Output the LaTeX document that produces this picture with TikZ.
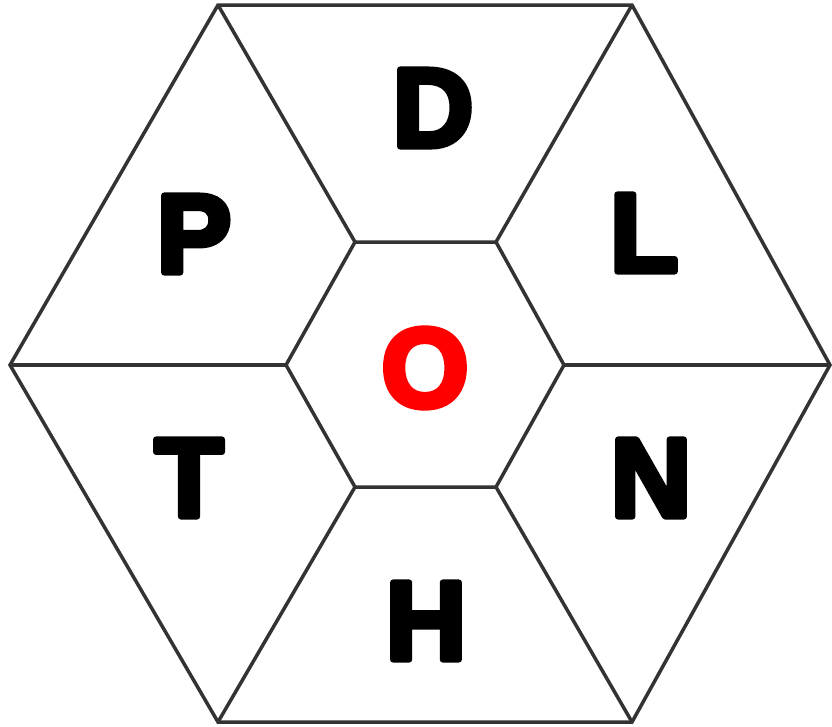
\documentclass[tikz,border=0pt]{standalone}
\usepackage{fontspec}
\setmainfont{Liberation Sans}
\newcommand\roundedtext[1]{%
  \special{pdf:literal direct 1 j 6 w 2 Tr}#1\special{pdf:literal direct 0 Tr 0 j}}
\begin{document}
\begin{tikzpicture}[x=1pt,y=-1pt,
  edge/.style={draw=black!80, line width=3.5pt, line join=miter},
  letter/.style={inner sep=0pt, font=\bfseries\fontsize{112}{112}\selectfont}]
\useasboundingbox (0,0) rectangle (832,726);
% outer vertices
\coordinate (o1) at (218,5);
\coordinate (o2) at (632,5);
\coordinate (o3) at (830,365);
\coordinate (o4) at (632,722);
\coordinate (o5) at (218,722);
\coordinate (o6) at (10,365);
% inner vertices
\coordinate (i1) at (355,242);
\coordinate (i2) at (496,242);
\coordinate (i3) at (564,365);
\coordinate (i4) at (496,487);
\coordinate (i5) at (355,487);
\coordinate (i6) at (286,365);
\draw[edge] (o1) -- (o2) -- (o3) -- (o4) -- (o5) -- (o6) -- cycle;
\draw[edge] (i1) -- (i2) -- (i3) -- (i4) -- (i5) -- (i6) -- cycle;
\draw[edge] (o1) -- (i1);
\draw[edge] (o2) -- (i2);
\draw[edge] (o3) -- (i3);
\draw[edge] (o4) -- (i4);
\draw[edge] (o5) -- (i5);
\draw[edge] (o6) -- (i6);
\node[letter] (d) at (433,108) {\roundedtext{D}};
\node[letter] (l) at (644,233) {\roundedtext{L}};
\node[letter] (n) at (651,478) {\roundedtext{N}};
\node[letter] (h) at (426,621) {\roundedtext{H}};
\node[letter] (t) at (189,478) {\roundedtext{T}};
\node[letter] (p) at (194,234) {\roundedtext{P}};
\node[letter, text=red] (o) at (425,368) {\roundedtext{O}};
\end{tikzpicture}
\end{document}
